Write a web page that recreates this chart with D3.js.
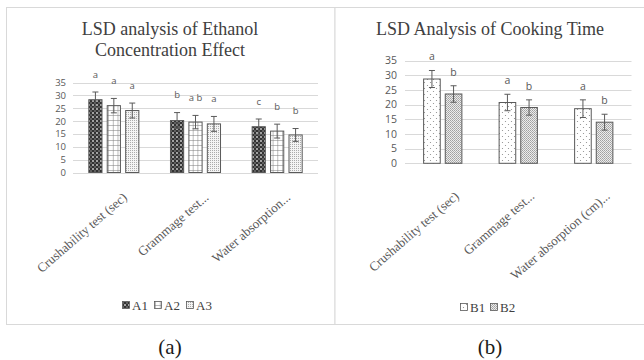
<!DOCTYPE html>
<html>
<head>
<meta charset="utf-8">
<script src="https://cdn.jsdelivr.net/npm/d3@7"></script>
<style>
  body { margin: 0; background: #fff; }
  svg { display: block; }
  .serif { font-family: 'Liberation Serif', 'Times New Roman', 'DejaVu Serif', serif; }
  .sans { font-family: 'Open Sans', 'Liberation Sans', sans-serif; }
</style>
</head>
<body>
<svg id="chart" width="644" height="360"></svg>
<script>
// data
const tests = ["Crushability test (sec)", "Grammage test...", "Water absorption..."];
const testsB = ["Crushability test (sec)", "Grammage test...", "Water absorption (cm)..."];
const yTicks = [0, 5, 10, 15, 20, 25, 30, 35];

const ethanolLevels = ["A1", "A2", "A3"];
const ethanolMeans = {
  A1: [28.3, 20.2, 17.8],
  A2: [26.0, 19.6, 16.1],
  A3: [24.1, 18.9, 14.6]
};
const ethanolErr = {
  A1: [3.0, 3.1, 3.0],
  A2: [2.8, 2.6, 2.7],
  A3: [2.9, 2.9, 2.5]
};
const ethanolLetters = {
  A1: ["a", "b", "c"],
  A2: ["a", "a b", "b"],
  A3: ["a", "a", "b"]
};

const cookLevels = ["B1", "B2"];
const cookMeans = {
  B1: [28.7, 20.7, 18.6],
  B2: [23.6, 19.0, 14.0]
};
const cookErr = {
  B1: [2.9, 2.8, 3.0],
  B2: [2.8, 2.6, 2.7]
};
const cookLetters = {
  B1: ["a", "a", "a"],
  B2: ["b", "b", "b"]
};

const svg = d3.select("#chart");
const defs = svg.append("defs");

function makePatterns() {
  // A1: dark with light spots
  const p1 = defs.append("pattern").attr("id", "pat-A1")
    .attr("patternUnits", "userSpaceOnUse").attr("width", 4).attr("height", 4);
  p1.append("rect").attr("width", 4).attr("height", 4).attr("fill", "#333");
  p1.append("circle").attr("cx", 1).attr("cy", 1).attr("r", 1).attr("fill", "#c8c8c8");
  p1.append("circle").attr("cx", 3).attr("cy", 3).attr("r", 0.8).attr("fill", "#999");

  // A2: grid
  const p2 = defs.append("pattern").attr("id", "pat-A2")
    .attr("patternUnits", "userSpaceOnUse").attr("width", 4.7).attr("height", 5);
  p2.append("rect").attr("width", 4.7).attr("height", 5).attr("fill", "#fff");
  p2.append("path").attr("d", "M0,0H4.7M0,0V5").attr("stroke", "#7a7a7a").attr("stroke-width", 1);

  // A3: fine light dots
  const p3 = defs.append("pattern").attr("id", "pat-A3")
    .attr("patternUnits", "userSpaceOnUse").attr("width", 2).attr("height", 2);
  p3.append("rect").attr("width", 2).attr("height", 2).attr("fill", "#f4f4f4");
  p3.append("rect").attr("width", 1).attr("height", 1).attr("fill", "#ababab");

  // B1: sparse dots
  const p4 = defs.append("pattern").attr("id", "pat-B1")
    .attr("patternUnits", "userSpaceOnUse").attr("width", 6).attr("height", 6);
  p4.append("rect").attr("width", 6).attr("height", 6).attr("fill", "#fff");
  p4.append("circle").attr("cx", 1.5).attr("cy", 1.5).attr("r", 0.6).attr("fill", "#8a8a8a");
  p4.append("circle").attr("cx", 4.5).attr("cy", 4.5).attr("r", 0.6).attr("fill", "#8a8a8a");

  // B2: dense light checker
  const p5 = defs.append("pattern").attr("id", "pat-B2")
    .attr("patternUnits", "userSpaceOnUse").attr("width", 2).attr("height", 2);
  p5.append("rect").attr("width", 2).attr("height", 2).attr("fill", "#ececec");
  p5.append("rect").attr("width", 1).attr("height", 1).attr("fill", "#a0a0a0");
  p5.append("rect").attr("x", 1).attr("y", 1).attr("width", 1).attr("height", 1).attr("fill", "#b0b0b0");
}
makePatterns();

function drawPanel(cfg) {
  const g = svg.append("g");

  g.append("rect")
    .attr("x", cfg.box.x).attr("y", cfg.box.y)
    .attr("width", cfg.box.w).attr("height", cfg.box.h)
    .attr("fill", "#fff").attr("stroke", "#d9d9d9").attr("stroke-width", 1);

  const cx = cfg.box.x + cfg.box.w / 2;
  cfg.title.forEach((t, i) => {
    g.append("text").attr("class", "serif")
      .attr("x", cfg.titleX).attr("y", cfg.titleY + i * 21)
      .attr("text-anchor", "middle")
      .attr("font-size", 18).attr("fill", "#404040")
      .text(t);
  });

  const y = d3.scaleLinear().domain([0, 35]).range(cfg.yRange);
  const x0 = d3.scaleBand().domain(cfg.cats).range(cfg.xRange)
    .paddingInner(cfg.pad).paddingOuter(cfg.pad / 2);
  const x1 = d3.scaleBand().domain(cfg.levels).range([0, x0.bandwidth()])
    .paddingInner(cfg.subPad);

  // grid
  g.append("g").selectAll("line").data(yTicks).join("line")
    .attr("x1", cfg.xRange[0]).attr("x2", cfg.xRange[1])
    .attr("y1", d => Math.round(y(d)) + 0.5).attr("y2", d => Math.round(y(d)) + 0.5)
    .attr("stroke", "#d9d9d9").attr("stroke-width", 1);

  // y axis labels
  const yAxis = d3.axisLeft(y).tickValues(yTicks).tickSize(0).tickPadding(cfg.tickPad);
  const ya = g.append("g").attr("transform", `translate(${cfg.xRange[0]},0)`).call(yAxis);
  ya.select(".domain").remove();
  ya.selectAll("text").attr("class", "sans")
    .attr("font-size", cfg.fs).attr("fill", "#595959");

  // bars
  const rows = [];
  cfg.cats.forEach((c, i) => {
    cfg.levels.forEach(l => {
      rows.push({ cat: c, level: l, v: cfg.means[l][i], e: cfg.err[l][i], lab: cfg.letters[l][i] });
    });
  });

  const bx = d => x0(d.cat) + x1(d.level);
  const bw = x1.bandwidth();

  g.append("g").selectAll("rect").data(rows).join("rect")
    .attr("x", d => bx(d) + 0.5)
    .attr("y", d => y(d.v))
    .attr("width", bw - 1)
    .attr("height", d => y(0) - y(d.v))
    .attr("fill", d => `url(#pat-${d.level})`)
    .attr("stroke", "#5a5a5a").attr("stroke-width", 1);

  // error bars
  const eg = g.append("g").attr("stroke", "#5a5a5a").attr("stroke-width", 1);
  rows.forEach(d => {
    const mx = bx(d) + bw / 2;
    eg.append("line").attr("x1", mx).attr("x2", mx)
      .attr("y1", y(d.v - d.e)).attr("y2", y(d.v + d.e));
    [d.v - d.e, d.v + d.e].forEach(val => {
      eg.append("line").attr("x1", mx - 3).attr("x2", mx + 3)
        .attr("y1", y(val)).attr("y2", y(val));
    });
  });

  // significance letters
  g.append("g").selectAll("text").data(rows).join("text").attr("class", "sans")
    .attr("x", d => bx(d) + bw / 2)
    .attr("y", d => y(d.v + d.e) - cfg.letterGap)
    .attr("text-anchor", "middle")
    .attr("dominant-baseline", "middle")
    .attr("font-size", cfg.fs).attr("fill", "#595959")
    .text(d => d.lab);

  // rotated category labels
  g.append("g").selectAll("text").data(cfg.catLabels).join("text").attr("class", "serif")
    .attr("transform", (d, i) => {
      const tx = x0(cfg.cats[i]) + x0.bandwidth() / 2 + cfg.catDx;
      const ty = y(0) + cfg.catDy;
      return `translate(${tx},${ty}) rotate(-41)`;
    })
    .attr("text-anchor", "end")
    .attr("font-size", 13).attr("fill", "#595959")
    .text(d => d);

  // legend
  const lg = g.append("g");
  const itemW = cfg.legendItemW;
  const startX = cfg.titleX - (itemW * cfg.levels.length) / 2;
  cfg.levels.forEach((l, i) => {
    const ix = startX + i * itemW;
    lg.append("rect").attr("x", ix + 0.5).attr("y", cfg.legendY - 3.5)
      .attr("width", 7).attr("height", 7)
      .attr("fill", `url(#pat-${l})`).attr("stroke", "#5a5a5a").attr("stroke-width", 0.8);
    lg.append("text").attr("class", "serif").attr("x", ix + 10).attr("y", cfg.legendY + 4.5)
      .attr("font-size", 13).attr("fill", "#404040")
      .text(l);
  });

  // panel caption
  svg.append("text").attr("class", "serif").attr("x", cfg.titleX).attr("y", 354)
    .attr("text-anchor", "middle")
    .attr("font-size", 21).attr("fill", "#1a1a1a")
    .text(cfg.caption);
}

drawPanel({
  box: { x: 6.5, y: 7.5, w: 328.5, h: 317 },
  title: ["LSD analysis of Ethanol", "Concentration Effect"],
  titleX: 170, titleY: 35,
  cats: tests, catLabels: tests,
  levels: ethanolLevels, means: ethanolMeans, err: ethanolErr, letters: ethanolLetters,
  yRange: [172.5, 82.5], xRange: [73, 318],
  pad: 0.375, subPad: 0.23, fs: 9.5, tickPad: 7,
  letterGap: 17,
  catDx: 14, catDy: 26,
  legendY: 305, legendItemW: 32,
  caption: "(a)"
});

drawPanel({
  box: { x: 335, y: 7.5, w: 315, h: 317 },
  title: ["LSD Analysis of Cooking Time"],
  titleX: 490, titleY: 35,
  cats: tests, catLabels: testsB,
  levels: cookLevels, means: cookMeans, err: cookErr, letters: cookLetters,
  yRange: [163.3, 60.5], xRange: [405, 631.5],
  pad: 0.48, subPad: 0.186, fs: 10.5, tickPad: 8,
  letterGap: 13,
  catDx: 17, catDy: 34,
  legendY: 307, legendItemW: 30,
  caption: "(b)"
});
</script>
</body>
</html>
